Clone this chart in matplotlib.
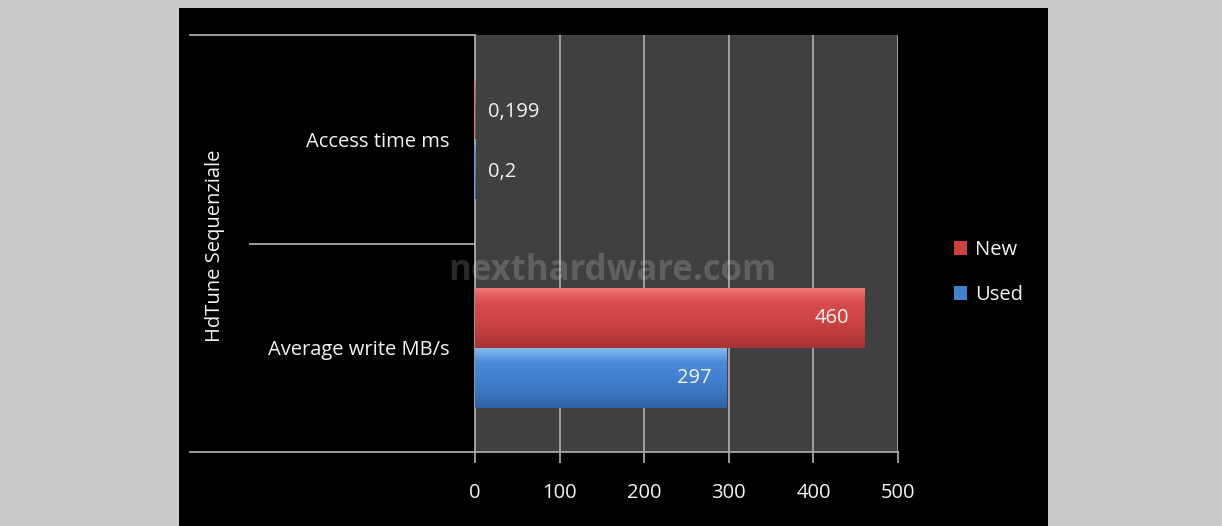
import numpy as np
import matplotlib
matplotlib.use("Agg")
import matplotlib.pyplot as plt
from matplotlib.patches import Rectangle
from matplotlib.lines import Line2D
from matplotlib.colors import LinearSegmentedColormap

categories = ["Average write MB/s", "Access time ms"]   # bottom to top
group_label = "HdTune Sequenziale"
series_names = ["New", "Used"]
new_values = [460, 0.199]
used_values = [297, 0.2]
xticks = [0, 100, 200, 300, 400, 500]

plt.rcParams['font.family'] = ['Open Sans', 'DejaVu Sans']
FS = 14.5
TXT = '#f4f4f4'

W, H = 1222, 526
fig = plt.figure(figsize=(W / 100, H / 100), dpi=100, facecolor='#cbcbcb')

# black chart panel
fig.add_artist(Rectangle((179 / W, 0), (1048 - 179) / W, (H - 8) / H,
                         transform=fig.transFigure, facecolor='black',
                         edgecolor='none', zorder=-5))

L, R, T, B = 475, 898, 35, 452
ax = fig.add_axes([L / W, (H - B) / H, (R - L) / W, (B - T) / H])
ax.set_zorder(1)
ax.set_facecolor('#404040')

y = np.arange(len(categories))
h = 0.288
red_cmap = LinearSegmentedColormap.from_list('r', ['#a63232', '#c03e3e', '#cf4545', '#d84c4c', '#f27a7a'])
blue_cmap = LinearSegmentedColormap.from_list('b', ['#2f62a4', '#3a76c0', '#4382d0', '#4b8ad6', '#86bdf2'])

bars_new = ax.barh(y + h / 2, new_values, height=h, color='#cc4040', edgecolor='none', zorder=3, label=series_names[0])
bars_used = ax.barh(y - h / 2, used_values, height=h, color='#4080cc', edgecolor='none', zorder=3, label=series_names[1])

grad = np.linspace(0, 1, 100).reshape(-1, 1)
for bars, cmap in ((bars_new, red_cmap), (bars_used, blue_cmap)):
    for p in bars:
        x0, y0 = p.get_x(), p.get_y()
        w_, h_ = p.get_width(), p.get_height()
        if w_ <= 0:
            continue
        im = ax.imshow(grad, cmap=cmap, aspect='auto', origin='lower',
                       extent=(x0, x0 + w_, y0, y0 + h_), zorder=3.5, interpolation='bilinear')
        im.set_clip_path(p)

ax.set_xlim(0, 500)
ax.set_ylim(-0.5, len(categories) - 0.5)

# value labels
def fmt(v):
    return f"{v:g}".replace('.', ',')

for bars, vals in ((bars_new, new_values), (bars_used, used_values)):
    for p, v in zip(bars, vals):
        yc = p.get_y() + p.get_height() / 2
        if v > 50:
            ax.annotate(fmt(v), (v, yc), xytext=(-15, 0), textcoords='offset pixels',
                        ha='right', va='center', color=TXT, fontsize=FS, zorder=5)
        else:
            ax.annotate(fmt(v), (0, yc), xytext=(13, -3), textcoords='offset pixels',
                        ha='left', va='center', color=TXT, fontsize=FS, zorder=5)

# grid and axes
ax.set_xticks(xticks)
ax.set_xticklabels([str(t) for t in xticks])
ax.grid(axis='x', color='#a8a8a8', linewidth=1.3, zorder=1)
ax.set_axisbelow(True)
for s in ['top', 'right']:
    ax.spines[s].set_visible(False)
ax.spines['left'].set_color('#a8a8a8')
ax.spines['bottom'].set_color('#a8a8a8')
ax.spines['left'].set_linewidth(1.3)
ax.spines['bottom'].set_linewidth(1.3)
ax.tick_params(axis='x', colors='#a8a8a8', length=8, width=1.3, pad=14, labelsize=FS, labelcolor=TXT)
ax.set_yticks(y)
ax.set_yticklabels(categories)
ax.tick_params(axis='y', length=0, pad=18, labelsize=FS, labelcolor=TXT)

# separator lines on left side
axw = R - L
for yy, xstart in ((0, 190), (1, 190), (0.5, 250)):
    ax.add_line(Line2D([(xstart - L) / axw, 0], [yy, yy], transform=ax.transAxes,
                       color='#a8a8a8', linewidth=1.3, clip_on=False))

fig.text(215 / W, 1 - 246 / H, group_label, rotation=90, ha='center', va='center',
         color=TXT, fontsize=FS)

# watermark
fig.text(612 / W, 1 - 280 / H, "nexthardware.com", ha='center', va='baseline',
         color='white', alpha=0.17, fontsize=25, fontweight='bold', zorder=2)

leg = fig.legend(handles=[bars_new, bars_used], labels=series_names,
                 loc='upper left', bbox_to_anchor=(954 / W, 1 - 240 / H),
                 frameon=False, fontsize=FS, labelcolor=TXT,
                 handlelength=0.65, handleheight=0.7, handletextpad=0.4,
                 labelspacing=1.25, borderpad=0, borderaxespad=0)

fig.savefig('out.png', dpi=100, facecolor=fig.get_facecolor())
